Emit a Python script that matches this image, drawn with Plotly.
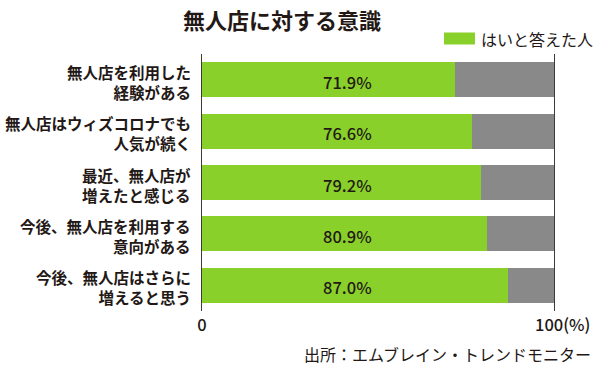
import plotly.graph_objects as go

categories = [
    "無人店を利用した<br>経験がある",
    "無人店はウィズコロナでも<br>人気が続く",
    "最近、無人店が<br>増えたと感じる",
    "今後、無人店を利用する<br>意向がある",
    "今後、無人店はさらに<br>増えると思う",
]
yes_values = [71.9, 76.6, 79.2, 80.9, 87.0]
other_values = [28.1, 23.4, 20.8, 19.1, 13.0]
value_labels = ["71.9%", "76.6%", "79.2%", "80.9%", "87.0%"]
x_tick_vals = [0, 100]
x_tick_text = ["0", ""]
x_end_label = "100(%)"

FONT = "Noto Sans CJK JP"
INK = "#231815"
GREEN = "#89d12a"
GRAY = "#898989"
LINE = "#3e3a39"

L, R, T, B = 202, 554, 54, 311
PW, PH = R - L, B - T


def px(x):
    return (x - L) / PW


def py(y):
    return (B - y) / PH


fig = go.Figure()
fig.add_trace(go.Bar(
    y=categories, x=yes_values, orientation="h",
    marker=dict(color=GREEN, line=dict(width=0)),
    name="はいと答えた人", showlegend=False, hoverinfo="skip",
))
fig.add_trace(go.Bar(
    y=categories, x=other_values, orientation="h",
    marker=dict(color=GRAY, line=dict(width=0)),
    showlegend=False, hoverinfo="skip",
))

# category labels
for cat in categories:
    fig.add_annotation(x=0, y=cat, xref="paper", yref="y", text=cat,
                       xanchor="right", yanchor="middle", align="right",
                       xshift=-9, yshift=-2, showarrow=False,
                       font=dict(family=FONT, size=15.5, color=INK, weight="bold"))

# value labels inside the bars
for cat, lab in zip(categories, value_labels):
    fig.add_annotation(x=41.2, y=cat, xref="x", yref="y", text=lab,
                       showarrow=False, yshift=-2,
                       font=dict(family=FONT, size=16.5, color=INK, weight=500))

# title
fig.add_annotation(x=px(282), y=py(19), xref="paper", yref="paper",
                   xanchor="center", yanchor="middle",
                   text="<b>無人店に対する意識</b>",
                   showarrow=False, font=dict(family=FONT, size=22, color=INK))

# manual legend
fig.add_shape(type="rect", xref="paper", yref="paper",
              x0=px(444), x1=px(475), y0=py(44.5), y1=py(32.5),
              fillcolor=GREEN, line=dict(width=0))
fig.add_annotation(x=px(479), y=py(38.5), xref="paper", yref="paper",
                   xanchor="left", yanchor="middle", text="はいと答えた人",
                   showarrow=False, font=dict(family=FONT, size=16, color=INK))

# 100(%) end label
fig.add_annotation(x=100, y=py(324), xref="x", yref="paper", xanchor="right", yanchor="middle",
                   xshift=38, text=x_end_label, showarrow=False,
                   font=dict(family=FONT, size=16.5, color=INK, weight=500))

# source
fig.add_annotation(x=px(592), y=py(367), xref="paper", yref="paper",
                   xanchor="right", yanchor="bottom", borderpad=0,
                   text="出所：エムブレイン・トレンドモニター",
                   showarrow=False, font=dict(family=FONT, size=16, color=INK))

fig.update_layout(
    width=600, height=369,
    margin=dict(l=L, r=600 - R, t=T, b=369 - B, autoexpand=False),
    paper_bgcolor="white", plot_bgcolor="white",
    barmode="stack", bargap=0.32,
    showlegend=False,
    xaxis=dict(range=[0, 100], tickvals=x_tick_vals, ticktext=x_tick_text,
               showgrid=False, zeroline=False, showline=False, automargin=False,
               ticks="", ticklabelstandoff=2,
               tickfont=dict(family=FONT, size=16.5, color=INK, weight=500),
               fixedrange=True),
    yaxis=dict(autorange="reversed", showgrid=False, zeroline=False, automargin=False,
               showline=True, mirror=True, linecolor=LINE, linewidth=1.2,
               ticks="", showticklabels=False,
               fixedrange=True),
)

fig.write_html(
    "out.html",
    config={"displayModeBar": False},
    post_script="document.documentElement.style.margin='0';document.body.style.margin='0';document.body.style.overflow='hidden';",
)
